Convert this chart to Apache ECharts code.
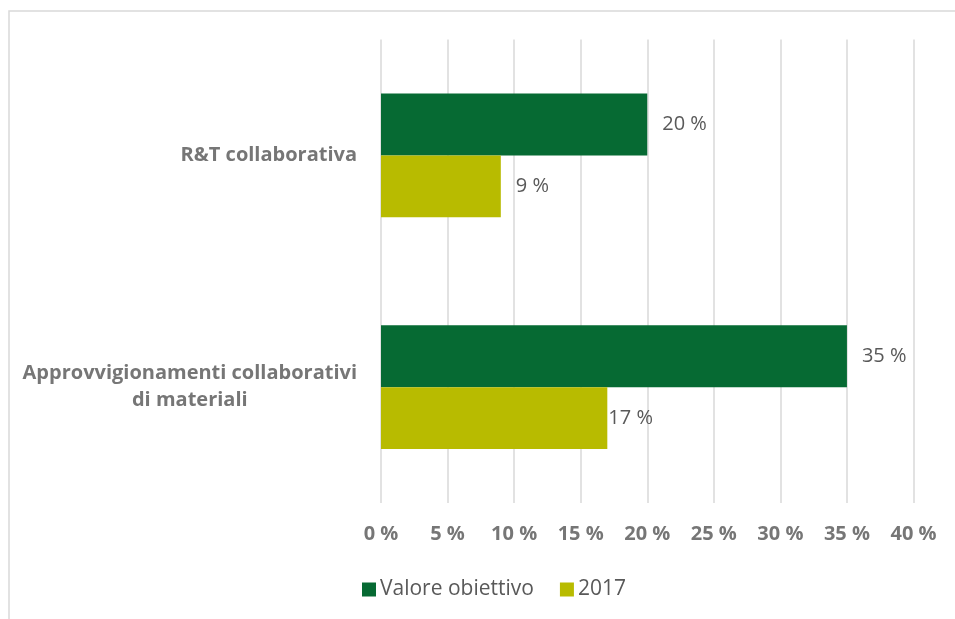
<!DOCTYPE html>
<html>
<head>
<meta charset="utf-8">
<script src="https://cdn.jsdelivr.net/npm/echarts@6/dist/echarts.min.js"></script>
<style>
  html, body { margin: 0; padding: 0; background: #ffffff; }
  #chart { width: 955px; height: 619px; }
</style>
</head>
<body>
<div id="chart"></div>
<script>
// Categories, top to bottom
const categories = ['R&T collaborativa', 'Approvvigionamenti collaborativi\ndi materiali'];
// Series values (percent)
const targetValues = [20, 35];
const values2017 = [9, 17];
const seriesNames = ['Valore obiettivo', '2017'];
// Percent axis ticks
const axisMin = 0;
const axisMax = 40;
const axisStep = 5;

const FONT = '"Open Sans", sans-serif';

const chart = echarts.init(document.getElementById('chart'));

function labelFor(offsets) {
  return function (idx) {
    return {
      show: true,
      position: 'right',
      distance: offsets[idx],
      formatter: '{c} %',
      color: '#595959',
      fontFamily: FONT,
      fontSize: 20
    };
  };
}

const targetLabel = labelFor([15, 15]);
const label2017 = labelFor([15, 1]);

chart.setOption({
  backgroundColor: '#ffffff',
  animation: false,
  graphic: [{
    type: 'rect',
    shape: { x: 9, y: 11, width: 1000, height: 700 },
    style: { fill: 'none', stroke: '#d9d9d9', lineWidth: 1.5 },
    silent: true
  }],
  grid: { left: 381, right: 41.5, top: 39.5, bottom: 116, containLabel: false },
  legend: {
    left: 357,
    top: 574,
    itemWidth: 14,
    itemHeight: 14,
    itemGap: 26,
    icon: 'rect',
    textStyle: { color: '#595959', fontFamily: FONT, fontSize: 21, padding: [0, 0, 0, -1] },
    data: seriesNames
  },
  xAxis: {
    type: 'value',
    min: axisMin,
    max: axisMax,
    interval: axisStep,
    axisLine: { show: false },
    axisTick: { show: false },
    splitLine: { lineStyle: { color: '#d9d9d9', width: 1.5 } },
    axisLabel: {
      formatter: '{value} %',
      color: '#767676',
      fontFamily: FONT,
      fontWeight: 'bold',
      fontSize: 20,
      margin: 21
    }
  },
  yAxis: {
    type: 'category',
    inverse: true,
    data: categories,
    axisLine: { show: false },
    axisTick: { show: false },
    axisLabel: {
      margin: 24,
      align: 'right',
      formatter: function (v) {
        return v.split('\n').map(function (line) { return '{c|' + line + '}'; }).join('\n');
      },
      rich: {
        c: {
          align: 'center',
          color: '#767676',
          fontFamily: FONT,
          fontWeight: 'bold',
          fontSize: 20,
          lineHeight: 27
        }
      }
    }
  },
  series: [
    {
      name: seriesNames[0],
      type: 'bar',
      barGap: '0%',
      barCategoryGap: '46.5%',
      itemStyle: { color: '#066a33' },
      data: targetValues.map(function (v, i) { return { value: v, label: targetLabel(i) }; })
    },
    {
      name: seriesNames[1],
      type: 'bar',
      barGap: '0%',
      barCategoryGap: '46.5%',
      itemStyle: { color: '#b8bb00' },
      data: values2017.map(function (v, i) { return { value: v, label: label2017(i) }; })
    }
  ]
});
</script>
</body>
</html>
